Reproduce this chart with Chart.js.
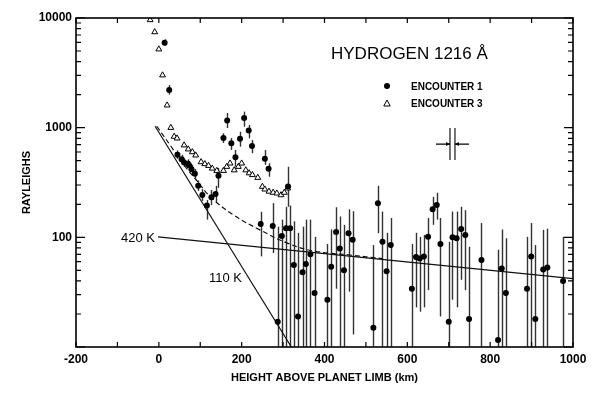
<!DOCTYPE html>
<html>
<head>
<meta charset="utf-8">
<script src="https://cdn.jsdelivr.net/npm/chart.js@4.4.1/dist/chart.umd.min.js"></script>
<style>
  html, body { margin: 0; padding: 0; background: #fff; }
  #wrap { width: 592px; height: 395px; }
</style>
</head>
<body>
<div id="wrap"><canvas id="chart"></canvas></div>
<script>
// Encounter 1: filled circles with error bars (height km, Rayleighs, bar low, bar high)
const enc1Km  = [14, 25, 45, 55, 61, 70, 73, 79, 87, 95, 105, 116, 127, 137, 144, 156, 165, 175, 185, 196,
                 206, 217, 225, 246, 256, 265, 275, 287, 297, 307, 312, 317, 326, 336, 347, 355, 366, 376, 407, 416,
                 428, 437, 447, 458, 468, 518, 529, 540, 550, 560, 611, 621, 630, 640, 650, 661, 671, 680, 700, 709,
                 719, 730, 740, 749, 779, 819, 828, 838, 889, 899, 909, 928, 938, 976];
const enc1Val = [5960, 2210, 567, 515, 480, 470, 454, 418, 380, 295, 243, 195, 232, 249, 365, 805, 1160, 721, 537, 794,
                 1225, 940, 681, 132, 521, 423, 127, 17, 103, 121, 290, 121, 56, 19, 48, 57, 70, 31, 27, 54,
                 112, 79, 50, 109, 95, 15, 205, 91, 49, 85, 34, 66, 64, 67, 101, 180, 197, 87, 17, 100,
                 98, 119, 105, 18, 62, 11.6, 52, 31, 34, 67, 18, 51, 53, 40];
const enc1Lo  = [5600, 2000, 520, 470, 440, 430, 415, 380, 345, 265, 215, 145, 197, 210, 283, 725, 993, 627, 441, 671,
                 1020, 800, 585, 67, 458, 357, 72, 5, 5, 5, 190, 5, 5, 5, 5, 5, 5, 5, 5, 5,
                 34, 5, 5, 32, 13, 5, 109, 5, 5, 5, 5, 23, 21, 23, 33, 130, 145, 19, 5, 27,
                 23, 41, 33, 5, 5, 5, 5, 5, 5, 5, 5, 5, 5, 5];
const enc1Hi  = [6400, 2450, 620, 565, 525, 515, 495, 460, 420, 330, 275, 219, 270, 295, 430, 890, 1360, 805, 627, 918,
                 1400, 1060, 773, 171, 627, 473, 205, 125, 145, 190, 440, 195, 140, 110, 125, 145, 145, 101, 87, 118,
                 188, 155, 130, 180, 173, 85, 295, 172, 110, 150, 87, 110, 101, 105, 150, 234, 255, 150, 91, 172,
                 172, 190, 177, 82, 135, 77, 118, 98, 101, 135, 85, 117, 120, 101];

// Encounter 3: open triangles
const enc3Km  = [-21, -10, 0, 9, 20, 29, 37, 44, 61, 71, 81, 89, 102, 111, 120, 129, 140, 156, 164, 172,
                 182, 192, 200, 210, 218, 226, 239, 250, 256, 266, 276, 285, 295, 303, 311];
const enc3Val = [9600, 7450, 5190, 3010, 1600, 1000, 830, 800, 692, 636, 600, 560, 486, 467, 450, 425, 405, 405, 441, 473,
                 410, 441, 473, 410, 385, 371, 350, 290, 274, 262, 256, 252, 243, 256, 280];

// Model curves
const k110Km = [-9, 320];
const k110Val = [1030, 10];
const k420Km = [-2, 1000];
const k420Val = [101, 42];
const sumKm  = [-5, 30, 60, 90, 124, 180, 244, 309, 373, 461, 540];
const sumVal = [1030, 670, 460, 335, 235, 160, 117, 89, 75, 69, 64];

// Axis labels
const xTickLabels = [-200, 0, 200, 400, 600, 800, 1000];
const yTickLabels = [100, 1000, 10000];

// Resolution marker (two bars with arrows)
const resKm = [703, 715];
const resVal = [508, 993];
const resArrowVal = 708;

const pts = (xs, ys) => xs.map((x, i) => ({ x: x, y: ys[i] }));
const FONT = "'Liberation Sans', Arial, sans-serif";

// Error bars for Encounter 1
const errorBars = {
  id: 'errorBars',
  beforeDatasetsDraw(chart) {
    const { ctx, chartArea: a, scales: { x, y } } = chart;
    ctx.save();
    ctx.beginPath();
    ctx.rect(a.left, a.top, a.right - a.left, a.bottom - a.top);
    ctx.clip();
    ctx.strokeStyle = '#333';
    ctx.lineWidth = 1.4;
    enc1Km.forEach((km, i) => {
      const px = Math.round(x.getPixelForValue(km)) + 0.5;
      ctx.beginPath();
      ctx.moveTo(px, y.getPixelForValue(enc1Lo[i]));
      ctx.lineTo(px, y.getPixelForValue(enc1Hi[i]));
      ctx.stroke();
    });
    ctx.restore();
  }
};

// Frame with inward ticks, labels, legend
const frame = {
  id: 'frame',
  afterDraw(chart) {
    const { ctx, chartArea: a, scales: { x, y } } = chart;
    ctx.save();
    ctx.strokeStyle = '#000';
    ctx.lineWidth = 1.6;
    ctx.strokeRect(a.left, a.top, a.right - a.left, a.bottom - a.top);

    ctx.lineWidth = 1.2;
    ctx.beginPath();
    for (let v = x.min; v <= x.max; v += 100) {
      const px = x.getPixelForValue(v);
      ctx.moveTo(px, a.bottom); ctx.lineTo(px, a.bottom - 5);
      ctx.moveTo(px, a.top); ctx.lineTo(px, a.top + 5);
    }
    for (let d = 10; d < 10000; d *= 10) {
      for (let m = 1; m <= 10; m++) {
        const py = y.getPixelForValue(d * m);
        const len = (m === 1 || m === 10) ? 9 : 5;
        ctx.moveTo(a.left, py); ctx.lineTo(a.left + len, py);
        ctx.moveTo(a.right, py); ctx.lineTo(a.right - len, py);
      }
    }
    ctx.stroke();

    // title
    ctx.fillStyle = '#000';
    ctx.textBaseline = 'middle';
    ctx.textAlign = 'left';
    ctx.font = '17px ' + FONT;
    ctx.fillText('HYDROGEN 1216 Å', 331, 54);

    // legend
    const lx = 387;
    ctx.font = 'bold 10px ' + FONT;
    ctx.fillText(chart.data.datasets[0].label, lx + 24, 87);
    ctx.fillText(chart.data.datasets[1].label, lx + 24, 104);
    ctx.beginPath();
    ctx.arc(lx, 86, 3, 0, Math.PI * 2);
    ctx.fill();
    ctx.lineWidth = 1;
    ctx.beginPath();
    ctx.moveTo(lx, 100); ctx.lineTo(lx + 3.2, 106); ctx.lineTo(lx - 3.2, 106); ctx.closePath();
    ctx.stroke();

    // curve labels
    ctx.font = '13px ' + FONT;
    ctx.fillText('420 K', 121, 238);
    ctx.fillText('110 K', 209, 278);

    // resolution marker
    ctx.lineWidth = 1.1;
    const ya = y.getPixelForValue(resArrowVal);
    const r0 = x.getPixelForValue(resKm[0]);
    const r1 = x.getPixelForValue(resKm[1]);
    ctx.beginPath();
    resKm.forEach(km => {
      const px = x.getPixelForValue(km);
      ctx.moveTo(px, y.getPixelForValue(resVal[0]));
      ctx.lineTo(px, y.getPixelForValue(resVal[1]));
    });
    ctx.moveTo(r0 - 14, ya); ctx.lineTo(r0, ya);
    ctx.moveTo(r1 + 14, ya); ctx.lineTo(r1, ya);
    ctx.stroke();
    ctx.beginPath();
    ctx.moveTo(r0, ya); ctx.lineTo(r0 - 4, ya - 2); ctx.lineTo(r0 - 4, ya + 2); ctx.closePath();
    ctx.moveTo(r1, ya); ctx.lineTo(r1 + 4, ya - 2); ctx.lineTo(r1 + 4, ya + 2); ctx.closePath();
    ctx.fill();
    ctx.restore();
  }
};

new Chart(document.getElementById('chart'), {
  type: 'scatter',
  data: {
    datasets: [
      {
        label: 'ENCOUNTER 1',
        data: pts(enc1Km, enc1Val),
        pointStyle: 'circle',
        pointRadius: 3,
        backgroundColor: '#000',
        borderColor: '#000',
        borderWidth: 0
      },
      {
        label: 'ENCOUNTER 3',
        data: pts(enc3Km, enc3Val),
        pointStyle: 'triangle',
        pointRadius: 3.4,
        backgroundColor: '#fff',
        borderColor: '#000',
        borderWidth: 1
      },
      {
        label: '110 K',
        data: pts(k110Km, k110Val),
        showLine: true,
        pointRadius: 0,
        borderColor: '#111',
        borderWidth: 1.2
      },
      {
        label: '420 K',
        data: pts(k420Km, k420Val),
        showLine: true,
        pointRadius: 0,
        borderColor: '#111',
        borderWidth: 1.2
      },
      {
        label: 'sum',
        data: pts(sumKm, sumVal),
        showLine: true,
        pointRadius: 0,
        tension: 0.4,
        borderColor: '#111',
        borderWidth: 1.2,
        borderDash: [5, 3]
      }
    ]
  },
  options: {
    responsive: true,
    maintainAspectRatio: false,
    animation: false,
    layout: { padding: { top: 18, right: 19, left: 0, bottom: 0 } },
    plugins: {
      legend: { display: false },
      tooltip: { enabled: false }
    },
    scales: {
      x: {
        type: 'linear',
        min: -200,
        max: 1000,
        grid: { display: false, drawTicks: false },
        border: { display: false },
        afterBuildTicks: s => { s.ticks = xTickLabels.map(v => ({ value: v })); },
        ticks: {
          color: '#000',
          padding: 5,
          font: { family: FONT, size: 12, weight: 'bold' },
          callback: v => String(v)
        },
        title: {
          display: true,
          text: 'HEIGHT ABOVE PLANET LIMB (km)',
          color: '#000',
          font: { family: FONT, size: 11, weight: 'bold' },
          padding: { top: 0, bottom: 10 }
        },
        afterFit: s => { s.height = 48; }
      },
      y: {
        type: 'logarithmic',
        min: 10,
        max: 10000,
        grid: { display: false, drawTicks: false },
        border: { display: false },
        afterBuildTicks: s => { s.ticks = yTickLabels.map(v => ({ value: v })); },
        ticks: {
          color: '#000',
          padding: 4,
          font: { family: FONT, size: 12, weight: 'bold' },
          callback: v => String(v)
        },
        title: {
          display: true,
          text: 'RAYLEIGHS',
          color: '#000',
          font: { family: FONT, size: 11, weight: 'bold' },
          padding: { top: 20, bottom: 0 }
        },
        afterFit: s => { s.width = 76; }
      }
    }
  },
  plugins: [errorBars, frame]
});
</script>
</body>
</html>
